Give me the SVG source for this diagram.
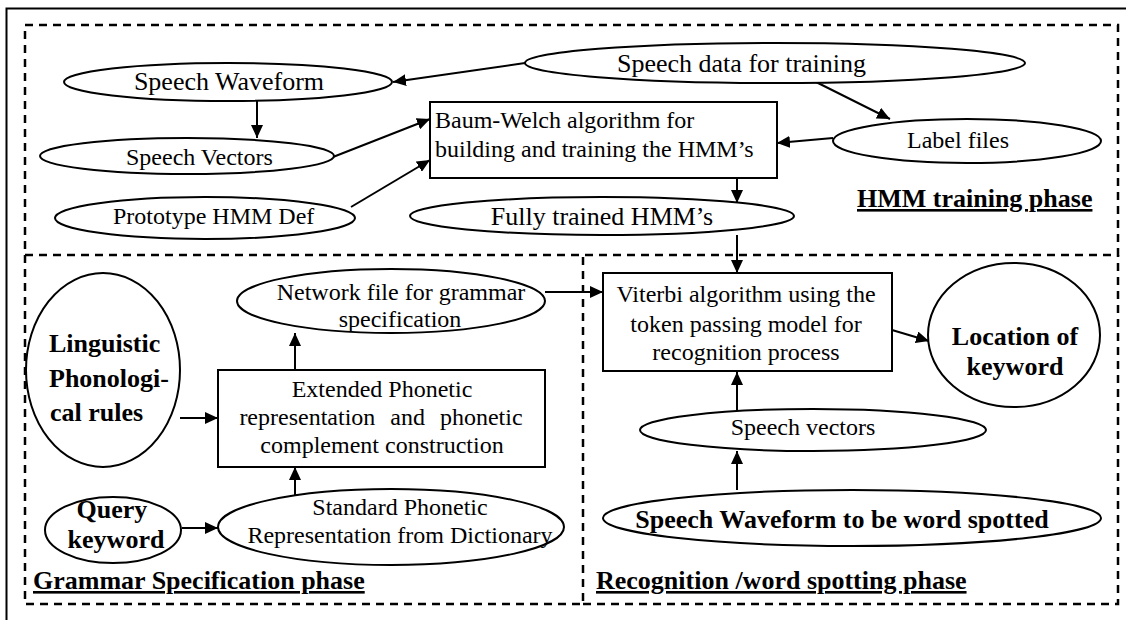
<svg xmlns="http://www.w3.org/2000/svg" width="1126" height="620" viewBox="0 0 1126 620">
<style>
text{font-family:"Liberation Serif","Times New Roman",serif;fill:#000}
.n{font-size:24px}
.l{font-size:26px}
.b{font-size:26px;font-weight:bold}
.ph{font-size:26px;font-weight:bold;text-decoration:underline}
.sh{fill:#fff;stroke:#000;stroke-width:2}
.c{stroke:#000;stroke-width:2;fill:none}
.d{fill:none;stroke:#000;stroke-width:2.5;stroke-dasharray:8 6}
</style>
<defs>
<marker id="ah" viewBox="0 0 13 12" refX="13" refY="6" markerWidth="13" markerHeight="12" orient="auto" markerUnits="userSpaceOnUse"><path d="M0,0 L13,6 L0,12 z" fill="#000"/></marker>
</defs>
<rect width="1126" height="620" fill="#fff"/>
<path d="M6.5,620 V8.5 H1126" fill="none" stroke="#000" stroke-width="2"/>
<g id="phases">
<path class="d" d="M25,25 H1118 V255 H25 Z"/>
<path class="d" d="M25,255 V604 H583 V255"/>
<path class="d" d="M583,604 H1118 V255"/>
<text class="ph" x="857" y="207">HMM training phase</text>
<text class="ph" x="33" y="589">Grammar Specification phase</text>
<text class="ph" x="596" y="589">Recognition /word spotting phase</text>
</g>
<g id="connectors">
<line class="c" x1="525" y1="63" x2="393" y2="82" marker-end="url(#ah)"/>
<line class="c" x1="257" y1="101" x2="257" y2="138" marker-end="url(#ah)"/>
<line class="c" x1="333" y1="157" x2="430" y2="119" marker-end="url(#ah)"/>
<line class="c" x1="351" y1="207" x2="430" y2="160" marker-end="url(#ah)"/>
<line class="c" x1="816" y1="82" x2="890" y2="119" marker-end="url(#ah)"/>
<line class="c" x1="833" y1="138" x2="777" y2="143" marker-end="url(#ah)"/>
<line class="c" x1="737" y1="178" x2="737" y2="203" marker-end="url(#ah)"/>
<line class="c" x1="737" y1="235" x2="737" y2="273" marker-end="url(#ah)"/>
<line class="c" x1="545" y1="292" x2="603" y2="292" marker-end="url(#ah)"/>
<line class="c" x1="295" y1="370" x2="295" y2="333" marker-end="url(#ah)"/>
<line class="c" x1="180" y1="418" x2="218" y2="418" marker-end="url(#ah)"/>
<line class="c" x1="295" y1="495" x2="295" y2="467" marker-end="url(#ah)"/>
<line class="c" x1="182" y1="528" x2="218" y2="528" marker-end="url(#ah)"/>
<line class="c" x1="892" y1="330" x2="929" y2="341" marker-end="url(#ah)"/>
<line class="c" x1="737" y1="410" x2="737" y2="372" marker-end="url(#ah)"/>
<line class="c" x1="737" y1="490" x2="737" y2="451" marker-end="url(#ah)"/>
</g>
<g id="speech-waveform">
<ellipse class="sh" cx="228" cy="82" rx="164" ry="19"/>
<text class="l" x="229" y="90" text-anchor="middle">Speech Waveform</text>
</g>
<g id="speech-data">
<ellipse class="sh" cx="775" cy="63" rx="250" ry="20"/>
<text class="l" x="617" y="72">Speech data for training</text>
</g>
<g id="speech-vectors">
<ellipse class="sh" cx="187" cy="156" rx="147" ry="18"/>
<text class="n" x="126" y="165">Speech Vectors</text>
</g>
<g id="prototype">
<ellipse class="sh" cx="205" cy="218" rx="150" ry="21"/>
<text class="n" x="113" y="224">Prototype HMM Def</text>
</g>
<g id="baum-welch">
<rect class="sh" x="430" y="102" width="347" height="76"/>
<text class="n" x="435" y="128">Baum-Welch algorithm for</text>
<text class="n" x="435" y="157">building and training the HMM’s</text>
</g>
<g id="label-files">
<ellipse class="sh" cx="967" cy="141" rx="134" ry="22"/>
<text class="n" x="958" y="148" text-anchor="middle">Label files</text>
</g>
<g id="fully-trained">
<ellipse class="sh" cx="602" cy="216" rx="192" ry="19"/>
<text class="l" x="602" y="225" text-anchor="middle">Fully trained HMM’s</text>
</g>
<g id="network-file">
<ellipse class="sh" cx="391" cy="301" rx="154" ry="32"/>
<text class="n" x="401" y="300" text-anchor="middle">Network file for grammar</text>
<text class="n" x="400" y="327" text-anchor="middle">specification</text>
</g>
<g id="linguistic">
<ellipse class="sh" cx="103" cy="370" rx="77" ry="97"/>
<text class="b" x="49" y="352">Linguistic</text>
<text class="b" x="49" y="387">Phonologi-</text>
<text class="b" x="50" y="421">cal rules</text>
</g>
<g id="extended">
<rect class="sh" x="218" y="370" width="327" height="97"/>
<text class="n" x="382" y="397" text-anchor="middle">Extended Phonetic</text>
<text class="n" x="381" y="425" text-anchor="middle" word-spacing="9">representation and phonetic</text>
<text class="n" x="382" y="453" text-anchor="middle">complement construction</text>
</g>
<g id="query">
<ellipse class="sh" cx="113" cy="530" rx="68" ry="33"/>
<text class="b" x="112" y="518" text-anchor="middle">Query</text>
<text class="b" x="116" y="548" text-anchor="middle">keyword</text>
</g>
<g id="standard">
<ellipse class="sh" cx="391" cy="527" rx="173" ry="38"/>
<text class="n" x="400" y="515" text-anchor="middle">Standard Phonetic</text>
<text class="n" x="400" y="543" text-anchor="middle">Representation from Dictionary</text>
</g>
<g id="viterbi">
<rect class="sh" x="603" y="273" width="289" height="98"/>
<text class="n" x="746" y="302" text-anchor="middle">Viterbi algorithm using the</text>
<text class="n" x="746" y="332" text-anchor="middle">token passing model for</text>
<text class="n" x="746" y="360" text-anchor="middle">recognition process</text>
</g>
<g id="location">
<ellipse class="sh" cx="1014" cy="335" rx="86" ry="72"/>
<text class="b" x="1015" y="345" text-anchor="middle">Location of</text>
<text class="b" x="1015" y="375" text-anchor="middle">keyword</text>
</g>
<g id="speech-vectors-2">
<ellipse class="sh" cx="813" cy="430" rx="173" ry="21"/>
<text class="n" x="803" y="435" text-anchor="middle">Speech vectors</text>
</g>
<g id="waveform-spotted">
<ellipse class="sh" cx="852" cy="518" rx="249" ry="28"/>
<text class="b" x="842" y="528" text-anchor="middle">Speech Waveform to be word spotted</text>
</g>
</svg>
